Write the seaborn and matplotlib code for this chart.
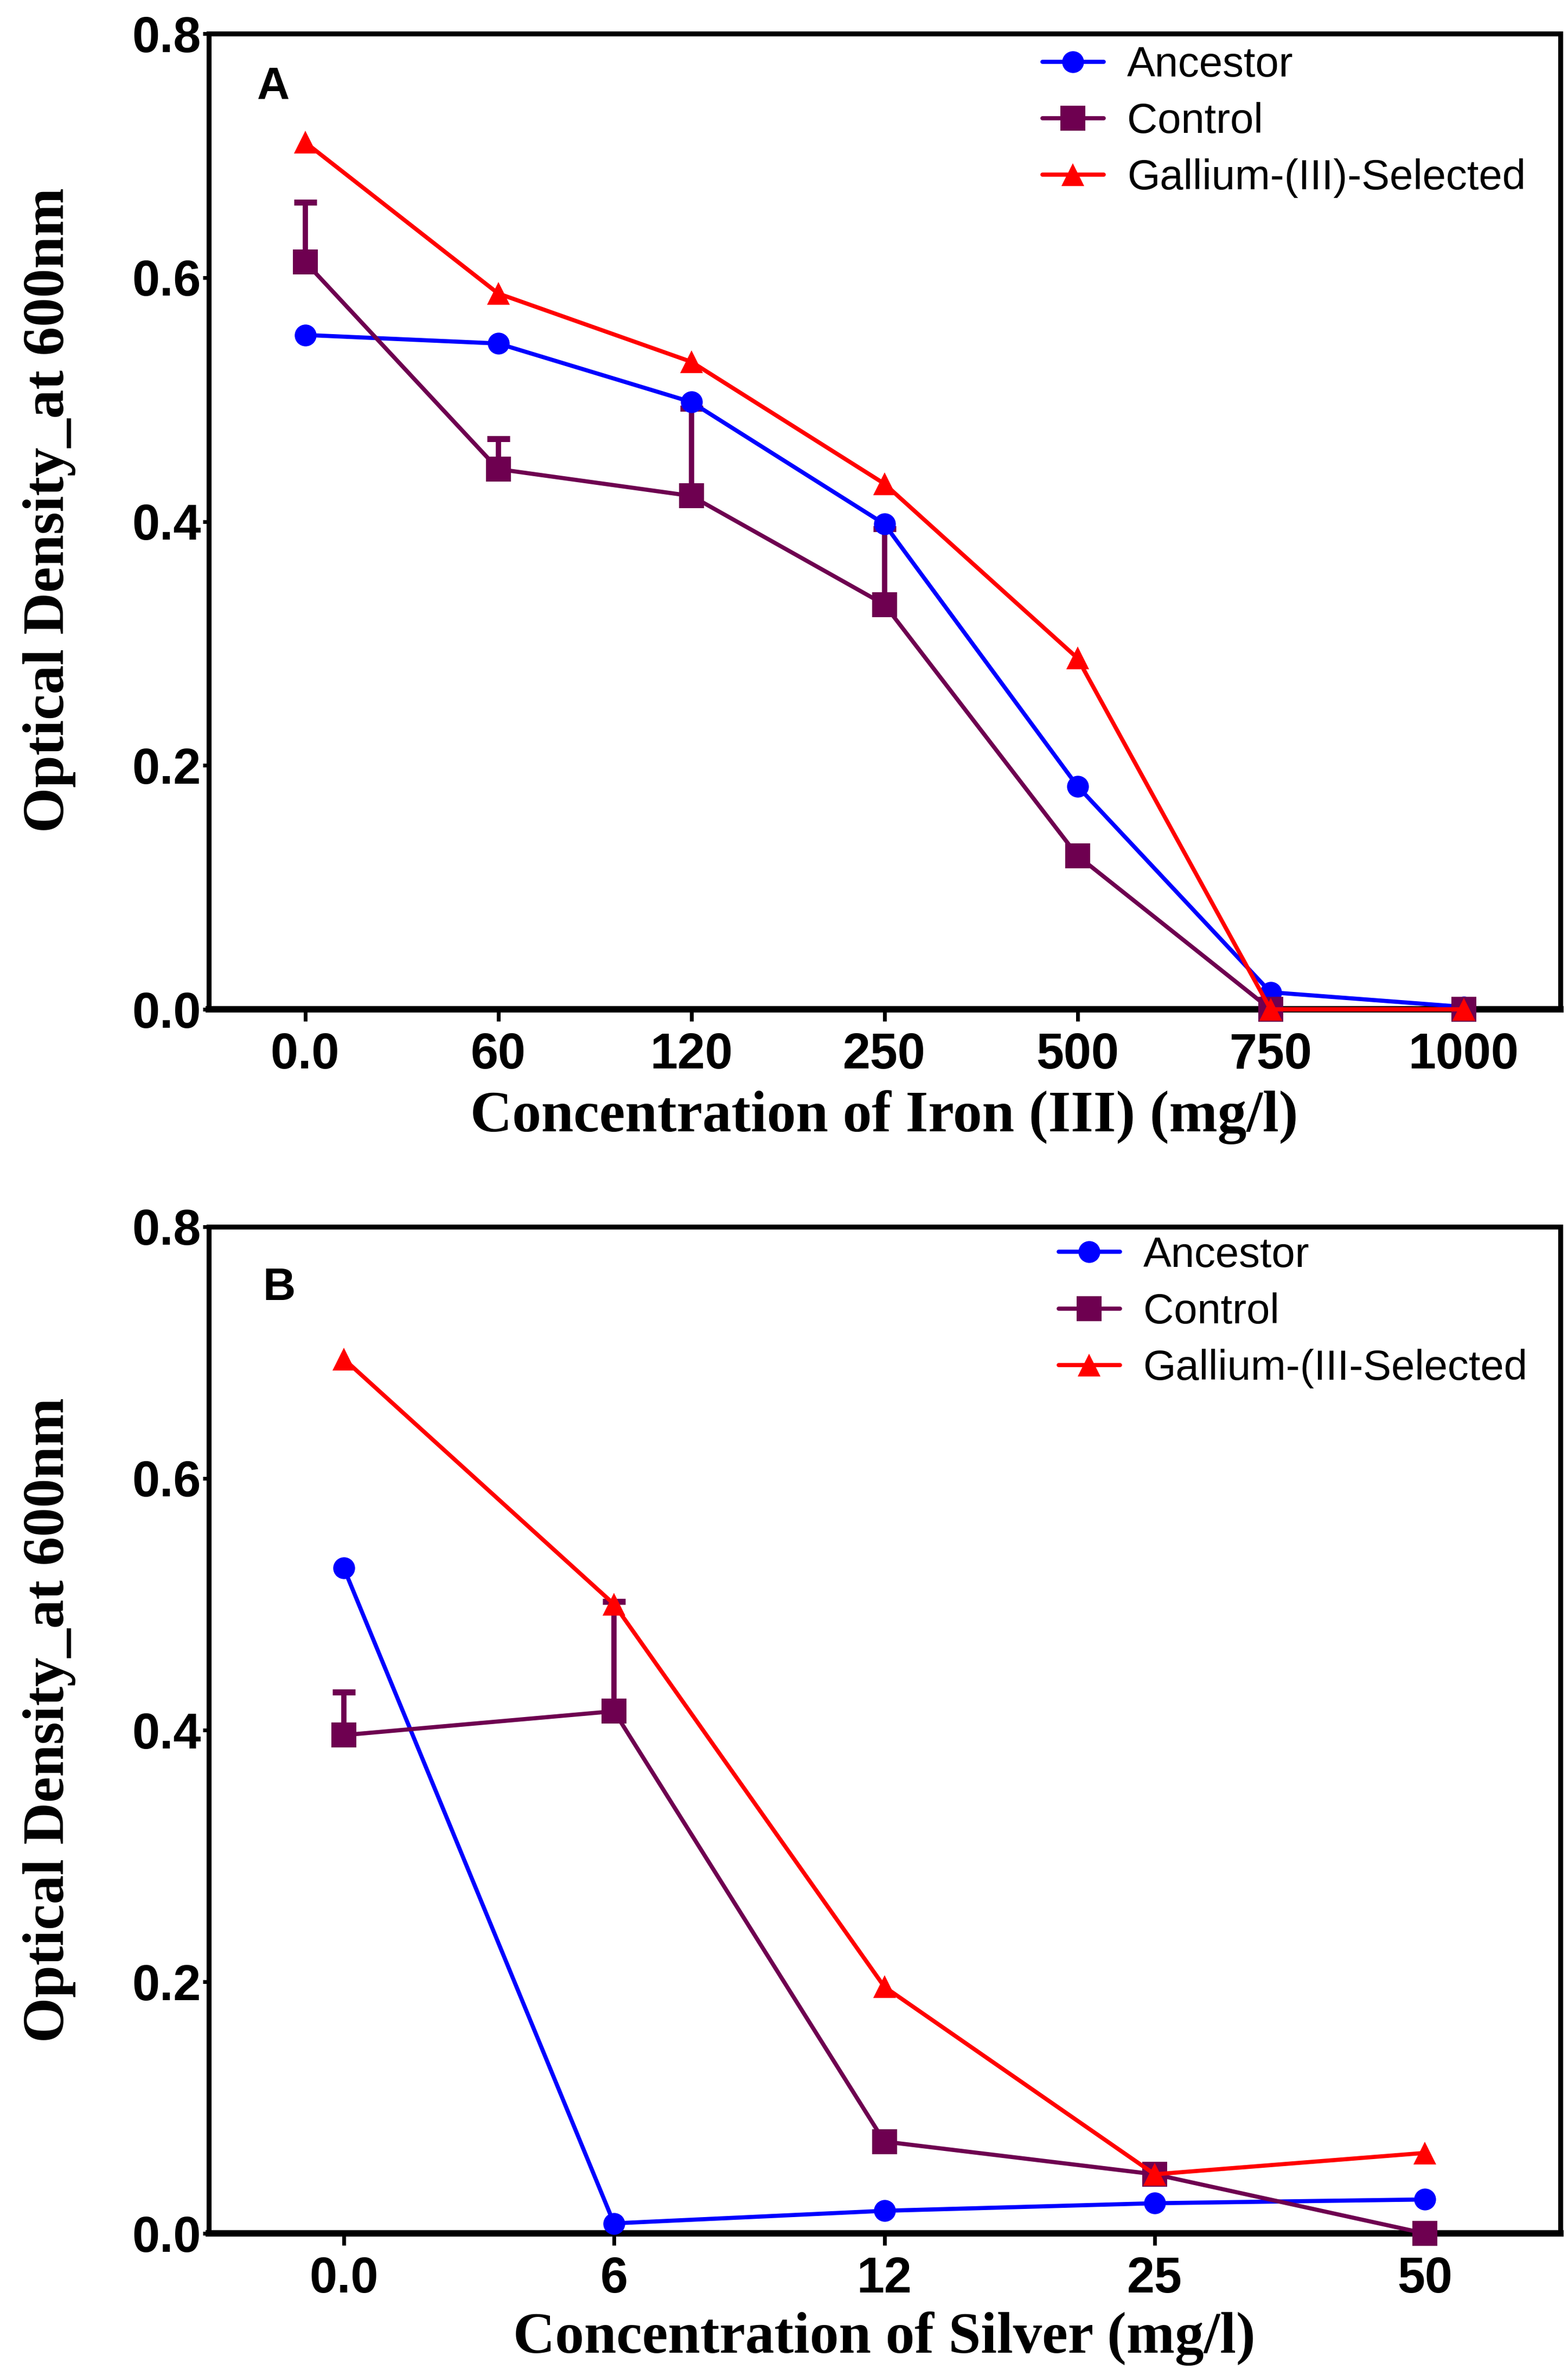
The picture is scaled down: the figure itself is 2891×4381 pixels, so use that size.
import matplotlib
matplotlib.use("Agg")
import matplotlib.pyplot as plt
import seaborn as sns
import pandas as pd
import numpy as np

# ---------------- data ----------------
iron_conc = ["0.0", "60", "120", "250", "500", "750", "1000"]
iron_ancestor = [0.553, 0.546, 0.498, 0.398, 0.183, 0.014, 0.002]
iron_control = [0.613, 0.443, 0.421, 0.332, 0.126, 0.0, 0.0]
iron_control_err = [0.049, 0.025, 0.072, 0.062, 0.0, 0.0, 0.0]
iron_gallium = [0.711, 0.587, 0.531, 0.431, 0.288, 0.0, 0.0]
iron_labels = ["Ancestor", "Control", "Gallium-(III)-Selected"]

silver_conc = ["0.0", "6", "12", "25", "50"]
silver_ancestor = [0.529, 0.008, 0.018, 0.024, 0.027]
silver_control = [0.396, 0.415, 0.073, 0.047, 0.0]
silver_control_err = [0.034, 0.087, 0.0, 0.0, 0.0]
silver_gallium = [0.695, 0.500, 0.196, 0.047, 0.064]
silver_labels = ["Ancestor", "Control", "Gallium-(III-Selected"]

y_ticks = [0.0, 0.2, 0.4, 0.6, 0.8]
y_label = "Optical Density_at 600nm"
x_label_iron = "Concentration of Iron (III) (mg/l)"
x_label_silver = "Concentration of Silver (mg/l)"

# ---------------- style ----------------
sns.set_theme(style="ticks")
plt.rcParams["font.family"] = ["Liberation Sans", "DejaVu Sans"]
plt.rcParams["text.color"] = "black"
plt.rcParams["axes.labelcolor"] = "black"

C_ANC = "#0000FF"
C_CTL = "#6E0050"
C_GAL = "#FF0000"

fig = plt.figure(figsize=(28.91, 43.81), dpi=100)
fig.patch.set_facecolor("white")
axA = fig.add_axes([0.133, 0.5752, 0.862, 0.4106])
axB = fig.add_axes([0.133, 0.0600, 0.862, 0.4237])


def draw_panel(ax, cats, anc, ctl, err, gal, labels, letter, xlabel,
               letter_xy, xlabel_y, ylabel_xy, legend_anchor):
    series = [
        (anc, labels[0], C_ANC, "o", 29),
        (ctl, labels[1], C_CTL, "s", 33),
        (gal, labels[2], C_GAL, "^", 30),
    ]
    # error bars (upper only) for Control
    e_c = [c for c, e in zip(cats, err) if e > 0]
    e_v = [v for v, e in zip(ctl, err) if e > 0]
    e_e = [e for e in err if e > 0]
    for vals, lab, col, mk, ms in series:
        df = pd.DataFrame({"conc": cats, "od": vals})
        sns.lineplot(data=df, x="conc", y="od", ax=ax, color=col, marker=mk,
                     markersize=ms, markeredgewidth=0, linewidth=5.5,
                     label=lab, sort=False, clip_on=False, zorder=4)
        if lab == labels[1]:
            ax.errorbar(e_c, e_v, yerr=[[0] * len(e_e), e_e], fmt="none",
                        ecolor=C_CTL, elinewidth=7, capsize=15, capthick=8,
                        zorder=3, clip_on=False)

    ax.set_xlim(-0.5, len(cats) - 0.5)
    ax.set_ylim(0, 0.8)
    ax.set_yticks(y_ticks)
    ax.set_yticklabels([f"{t:.1f}" for t in y_ticks])

    for side in ["left", "right", "top"]:
        ax.spines[side].set_linewidth(6.5)
        ax.spines[side].set_color("black")
    ax.spines["bottom"].set_linewidth(8.5)
    ax.spines["bottom"].set_color("black")

    ax.tick_params(axis="x", direction="out", length=16, width=5,
                   pad=14, labelsize=66, colors="black")
    ax.tick_params(axis="y", direction="out", length=8, width=5,
                   pad=2, labelsize=66, colors="black")
    for t in ax.get_xticklabels() + ax.get_yticklabels():
        t.set_fontweight("bold")
        t.set_family(["Liberation Sans", "DejaVu Sans"])

    ax.set_xlabel(xlabel, fontsize=77, fontweight="bold", color="black",
                  family=["Liberation Serif", "DejaVu Serif"])
    ax.set_ylabel(y_label, fontsize=77, fontweight="bold", color="black",
                  family=["Liberation Serif", "DejaVu Serif"])
    ax.xaxis.set_label_coords(0.5, xlabel_y)
    ax.yaxis.set_label_coords(*ylabel_xy)

    ax.text(letter_xy[0], letter_xy[1], letter, transform=ax.transAxes,
            ha="center", va="center", fontsize=60, fontweight="bold",
            color="black")

    handles, lbls = ax.get_legend_handles_labels()
    leg = ax.legend(handles, lbls, loc="upper left",
                    bbox_to_anchor=legend_anchor, frameon=False,
                    fontsize=56, handlelength=1.45, handletextpad=0.55,
                    labelspacing=0.4, borderpad=0, borderaxespad=0)
    for t in leg.get_texts():
        t.set_color("black")
    ax.set_facecolor("white")


draw_panel(axA, iron_conc, iron_ancestor, iron_control, iron_control_err,
           iron_gallium, iron_labels, "A", x_label_iron,
           (0.048, 0.9455), -0.0826, (-0.098, 0.512), (0.617, 0.988))
draw_panel(axB, silver_conc, silver_ancestor, silver_control,
           silver_control_err, silver_gallium, silver_labels, "B",
           x_label_silver, (0.052, 0.939), -0.0774, (-0.098, 0.51),
           (0.629, 0.991))

fig.savefig("out.png", dpi=100, facecolor="white")
